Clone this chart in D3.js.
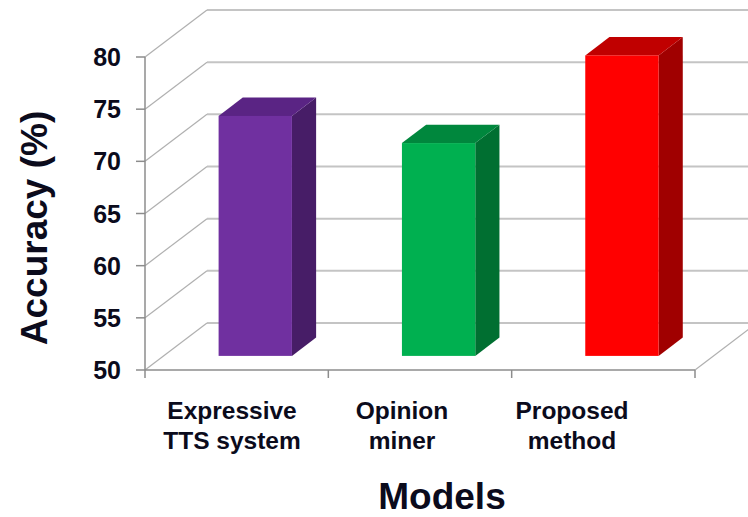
<!DOCTYPE html>
<html>
  <head>
    <title>Accuracy by model</title>
    <script src="https://d3js.org/d3.v7.min.js"></script>
    <style>
      body { margin: 0; background: #fff; }
      text { font-family: "Liberation Sans", Arial, sans-serif; font-weight: bold; fill: #0b0b1c; }
    </style>
  </head>
  <body>
    <div id="chart"></div>
    <script>
      // data
      var categories = ["Expressive TTS system", "Opinion miner", "Proposed method"];
      var labelLines = [["Expressive", "TTS system"], ["Opinion", "miner"], ["Proposed", "method"]];
      var accuracy = [73.0, 70.4, 78.8];
      var yTicks = [50, 55, 60, 65, 70, 75, 80];

      var width = 748;
      var height = 517;

      // colours per bar: front, top, side
      var colors = [
        { front: "#7030a0", top: "#5a2484", side: "#471d67" },
        { front: "#00b050", top: "#00873d", side: "#006f31" },
        { front: "#ff0000", top: "#c00000", side: "#a00000" }
      ];

      // 3d depth offset of the whole plot box
      var depthX = 62, depthY = -47;
      var barFront = 0.3, barBack = 0.69;

      var svg = d3.select("#chart")
        .append("svg")
        .attr("width", width)
        .attr("height", height);

      var y = d3.scaleLinear().domain([50, 80]).range([370, 57]);
      var x = d3.scaleBand().domain(categories).range([145, 695]);
      var xLabel = d3.scalePoint().domain(categories).range([232, 572]);

      // back wall gridlines
      svg.append("g").selectAll("line")
        .data(yTicks)
        .enter()
        .append("line")
        .attr("x1", 145 + depthX)
        .attr("x2", width)
        .attr("y1", function(d) { return y(d) + depthY; })
        .attr("y2", function(d) { return y(d) + depthY; })
        .style("stroke", "#c4c4c4")
        .style("stroke-width", 2);

      // left wall gridlines
      svg.append("g").selectAll("line")
        .data(yTicks)
        .enter()
        .append("line")
        .attr("x1", 145)
        .attr("x2", 145 + depthX)
        .attr("y1", function(d) { return y(d); })
        .attr("y2", function(d) { return y(d) + depthY; })
        .style("stroke", "#b0b0b0")
        .style("stroke-width", 1.2);

      // floor right edge
      svg.append("line")
        .attr("x1", 695)
        .attr("y1", y(50))
        .attr("x2", 695 + depthX)
        .attr("y2", y(50) + depthY)
        .style("stroke", "#b0b0b0")
        .style("stroke-width", 1.2);

      // bars
      var bw = x.bandwidth() * 0.4;
      var bars = svg.append("g").selectAll("g")
        .data(accuracy)
        .enter()
        .append("g");

      function pts(arr) {
        return arr.map(function(p) { return p.join(","); }).join(" ");
      }

      bars.each(function(v, i) {
        var g = d3.select(this);
        var x0 = x(categories[i]) + x.bandwidth() * 0.3 + depthX * barFront;
        var x1 = x0 + bw;
        var yt = y(v) + depthY * barFront;
        var yb = y(50) + depthY * barFront;
        var dx = depthX * (barBack - barFront);
        var dy = depthY * (barBack - barFront);

        g.append("polygon")
          .attr("points", pts([[x1, yt], [x1 + dx, yt + dy], [x1 + dx, yb + dy], [x1, yb]]))
          .style("fill", colors[i].side);
        g.append("polygon")
          .attr("points", pts([[x0, yt], [x0 + dx, yt + dy], [x1 + dx, yt + dy], [x1, yt]]))
          .style("fill", colors[i].top);
        g.append("rect")
          .attr("x", x0)
          .attr("y", yt)
          .attr("width", bw)
          .attr("height", yb - yt)
          .style("fill", colors[i].front);
      });

      // y axis
      svg.append("line")
        .attr("x1", 145).attr("x2", 145)
        .attr("y1", y(80)).attr("y2", y(50))
        .style("stroke", "#8c8c8c")
        .style("stroke-width", 1.5);

      svg.append("g").selectAll("line")
        .data(yTicks)
        .enter()
        .append("line")
        .attr("x1", 136).attr("x2", 145)
        .attr("y1", function(d) { return y(d); })
        .attr("y2", function(d) { return y(d); })
        .style("stroke", "#8c8c8c")
        .style("stroke-width", 1.5);

      svg.append("g").selectAll("text")
        .data(yTicks)
        .enter()
        .append("text")
        .attr("x", 121)
        .attr("y", function(d) { return y(d); })
        .attr("dy", "0.36em")
        .attr("text-anchor", "end")
        .style("font-size", "25px")
        .text(function(d) { return d; });

      // x axis
      svg.append("line")
        .attr("x1", 145).attr("x2", 695)
        .attr("y1", y(50)).attr("y2", y(50))
        .style("stroke", "#8c8c8c")
        .style("stroke-width", 1.5);

      svg.append("g").selectAll("line")
        .data(categories.concat(["end"]))
        .enter()
        .append("line")
        .attr("x1", function(d, i) { return i < categories.length ? x(d) : 695; })
        .attr("x2", function(d, i) { return i < categories.length ? x(d) : 695; })
        .attr("y1", y(50))
        .attr("y2", y(50) + 8)
        .style("stroke", "#8c8c8c")
        .style("stroke-width", 1.5);

      var labels = svg.append("g").selectAll("text")
        .data(categories)
        .enter()
        .append("text")
        .attr("text-anchor", "middle")
        .style("font-size", "24.5px");

      labels.selectAll("tspan")
        .data(function(d, i) { return labelLines[i].map(function(t) { return { t: t, c: d }; }); })
        .enter()
        .append("tspan")
        .attr("x", function(d) { return xLabel(d.c); })
        .attr("y", function(d, j) { return 419 + j * 30; })
        .text(function(d) { return d.t; });

      // axis titles
      svg.append("text")
        .attr("x", 442)
        .attr("y", 509)
        .attr("text-anchor", "middle")
        .style("font-size", "37px")
        .text("Models");

      svg.append("text")
        .attr("transform", "translate(47,228) rotate(-90)")
        .attr("text-anchor", "middle")
        .style("font-size", "37px")
        .text("Accuracy (%)");
    </script>
  </body>
</html>
